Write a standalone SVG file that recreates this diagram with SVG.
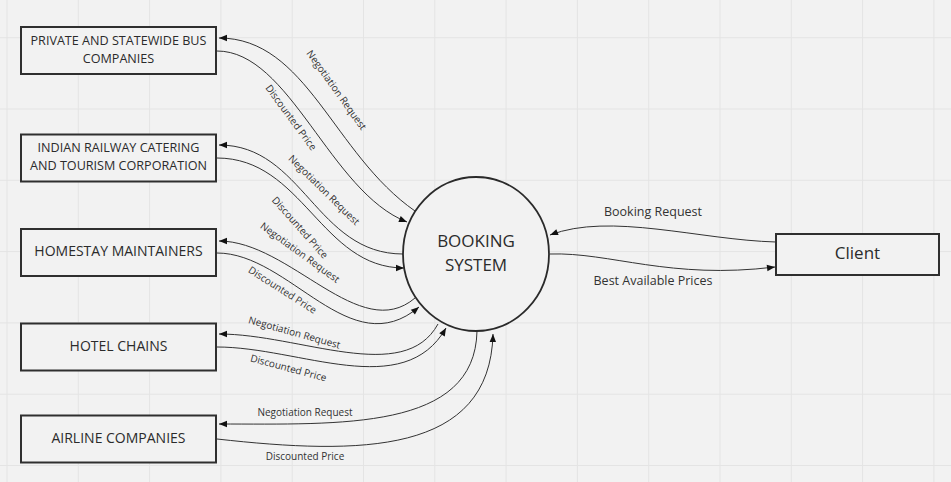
<svg xmlns="http://www.w3.org/2000/svg" width="951" height="482" viewBox="0 0 951 482">
<defs>
<style>
.bg{fill:#f2f2f2}
.grid line{stroke:#e4e4e4;stroke-width:1}
.box{fill:#f2f2f2;stroke:#2f2f2f;stroke-width:2}
.ntext{font-family:"Open Sans","Noto Sans",sans-serif;font-size:12.6px;fill:#2b2b2b;text-anchor:middle}
.one{font-size:14px}
.big{font-size:17px}
.conn path{fill:none;stroke:#333;stroke-width:1}
.lbl{font-family:"Open Sans","Noto Sans",sans-serif;font-size:10px;fill:#333;text-anchor:middle}
.lbl2{font-size:12.5px}
</style>
<marker id="arr" viewBox="0 0 10 10" refX="10" refY="5" markerWidth="10" markerHeight="8" markerUnits="userSpaceOnUse" orient="auto">
<path d="M0,1 L10,5 L0,9 z" fill="#111"/>
</marker>
</defs>
<rect class="bg" x="0" y="0" width="951" height="482"/>
<g class="grid">
<line x1="7" y1="0" x2="7" y2="482"/><line x1="78.3" y1="0" x2="78.3" y2="482"/><line x1="149.6" y1="0" x2="149.6" y2="482"/><line x1="220.9" y1="0" x2="220.9" y2="482"/><line x1="292.2" y1="0" x2="292.2" y2="482"/><line x1="363.5" y1="0" x2="363.5" y2="482"/><line x1="434.8" y1="0" x2="434.8" y2="482"/><line x1="506.1" y1="0" x2="506.1" y2="482"/><line x1="577.4" y1="0" x2="577.4" y2="482"/><line x1="648.7" y1="0" x2="648.7" y2="482"/><line x1="720" y1="0" x2="720" y2="482"/><line x1="791.3" y1="0" x2="791.3" y2="482"/><line x1="862.6" y1="0" x2="862.6" y2="482"/><line x1="933.9" y1="0" x2="933.9" y2="482"/>
<line x1="0" y1="37.7" x2="951" y2="37.7"/><line x1="0" y1="109" x2="951" y2="109"/><line x1="0" y1="180.3" x2="951" y2="180.3"/><line x1="0" y1="251.6" x2="951" y2="251.6"/><line x1="0" y1="322.9" x2="951" y2="322.9"/><line x1="0" y1="394.2" x2="951" y2="394.2"/><line x1="0" y1="465.5" x2="951" y2="465.5"/>
</g>
<g class="conn" id="connectors">
<path d="M415,211 C333,154 307,38 219,38" marker-end="url(#arr)"/>
<path d="M217,51 C290,51 330,192 407,222" marker-end="url(#arr)"/>
<path d="M403,254 C316,254 303,145 219,145" marker-end="url(#arr)"/>
<path d="M217,158 C303,158 321,268 404,268" marker-end="url(#arr)"/>
<path d="M415,298 C360,345 290,241 219,241" marker-end="url(#arr)"/>
<path d="M217,253 C290,253 350,365 419,307" marker-end="url(#arr)"/>
<path d="M438,324 C404,386 300,334 219,334" marker-end="url(#arr)"/>
<path d="M217,347 C300,347 403.5,402 446,328" marker-end="url(#arr)"/>
<path d="M477,331 C475,431 340,424 219,424" marker-end="url(#arr)"/>
<path d="M217,439 C360,455 490,455 493,334" marker-end="url(#arr)"/>
<path d="M776,242 C700,240 610,212 550,235" marker-end="url(#arr)"/>
<path d="M550,254 C610,252 670,280 775,267" marker-end="url(#arr)"/>
<text class="lbl" transform="translate(336.5,90) rotate(54.5)" dy="3.5">Negotiation Request</text>
<text class="lbl" transform="translate(291,117.5) rotate(53.6)" dy="3.5">Discounted Price</text>
<text class="lbl" transform="translate(324,190) rotate(44.5)" dy="3.5">Negotiation Request</text>
<text class="lbl" transform="translate(300,227.5) rotate(48.5)" dy="3.5">Discounted Price</text>
<text class="lbl" transform="translate(300,252.5) rotate(36)" dy="3.5">Negotiation Request</text>
<text class="lbl" transform="translate(282.5,290) rotate(32.5)" dy="3.5">Discounted Price</text>
<text class="lbl" transform="translate(294.5,332.5) rotate(15.7)" dy="3.5">Negotiation Request</text>
<text class="lbl" transform="translate(288.5,368) rotate(15)" dy="3.5">Discounted Price</text>
<text class="lbl" x="305" y="416">Negotiation Request</text>
<text class="lbl" x="305" y="459.5">Discounted Price</text>
<text class="lbl lbl2" x="653" y="216">Booking Request</text>
<text class="lbl lbl2" x="653" y="285">Best Available Prices</text>
</g>
<g id="node-bus">
<rect class="box" x="21" y="27" width="195" height="47"/>
<text class="ntext" x="118.5" y="45">PRIVATE AND STATEWIDE BUS</text>
<text class="ntext" x="118.5" y="63">COMPANIES</text>
</g>
<g id="node-irctc">
<rect class="box" x="21" y="134.5" width="195" height="47"/>
<text class="ntext" x="118.5" y="152">INDIAN RAILWAY CATERING</text>
<text class="ntext" x="118.5" y="169.5">AND TOURISM CORPORATION</text>
</g>
<g id="node-homestay">
<rect class="box" x="21" y="229" width="195" height="47"/>
<text class="ntext one" x="118.5" y="256">HOMESTAY MAINTAINERS</text>
</g>
<g id="node-hotel">
<rect class="box" x="21" y="323.5" width="195" height="47"/>
<text class="ntext one" x="118.5" y="350.5">HOTEL CHAINS</text>
</g>
<g id="node-airline">
<rect class="box" x="21" y="415.5" width="195" height="47"/>
<text class="ntext one" x="118.5" y="442.5">AIRLINE COMPANIES</text>
</g>
<g id="node-booking">
<ellipse cx="476" cy="254" rx="73" ry="77" fill="#f2f2f2" stroke="#2a2a2a" stroke-width="1.8"/>
<text class="ntext big" x="476" y="247">BOOKING</text>
<text class="ntext big" x="476" y="270.5">SYSTEM</text>
</g>
<g id="node-client">
<rect class="box" x="776" y="234" width="163" height="41"/>
<text class="ntext big" x="857.5" y="259">Client</text>
</g>
</svg>
